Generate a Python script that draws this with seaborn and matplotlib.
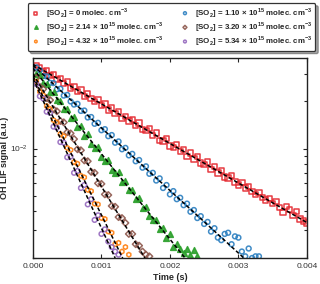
import matplotlib
matplotlib.use('Agg')
import matplotlib.pyplot as plt
import seaborn as sns
from matplotlib.ticker import FormatStrFormatter, NullFormatter

# shared delay grid (microseconds)
delay_us = [50, 100, 150, 200, 250, 300, 350, 400, 450, 500,
            550, 600, 650, 700, 750, 800, 850, 900, 950, 1000,
            1050, 1100, 1150, 1200, 1250, 1300, 1350, 1400, 1450, 1500,
            1550, 1600, 1650, 1700, 1750, 1800, 1850, 1900, 1950, 2000,
            2050, 2100, 2150, 2200, 2250, 2300, 2350, 2400, 2450, 2500,
            2550, 2600, 2650, 2700, 2750, 2800, 2850, 2900, 2950, 3000,
            3050, 3100, 3150, 3200, 3250, 3300, 3350, 3400, 3450, 3500,
            3550, 3600, 3650, 3700, 3750, 3800, 3850, 3900, 3950, 4000]

# OH LIF signal, units of 1e-3 a.u.
sig_0 = [33.9, 33.0, 31.0, 31.5, 29.2, 29.6, 27.5, 27.9, 26.0, 26.6,
         24.4, 24.9, 23.1, 23.6, 21.6, 22.3, 20.8, 20.0, 20.5, 18.8,
         19.3, 17.6, 18.2, 16.8, 17.2, 15.6, 16.1, 15.0, 15.4, 14.0,
         14.6, 13.2, 13.0, 13.4, 12.1, 12.6, 11.3, 11.2, 11.6, 10.4,
         10.2, 10.6, 9.6, 9.9, 8.9, 9.35, 8.6, 8.9, 8.1, 7.9,
         8.2, 7.35, 7.7, 7.0, 7.25, 6.6, 6.5, 6.7, 6.1, 5.85,
         6.05, 5.6, 5.75, 5.3, 5.1, 5.25, 4.85, 4.7, 4.8, 4.45,
         4.6, 4.2, 3.9, 4.25, 4.1, 3.75, 3.95, 3.55, 3.45, 3.35]
sig_110 = [33.0, 31.6, 29.0, 28.9, 26.3, 26.2, 23.9, 24.1, 21.8, 22.0,
           20.0, 19.1, 19.3, 17.4, 17.5, 15.8, 15.9, 14.4, 14.6, 13.1,
           13.3, 12.0, 12.2, 10.9, 11.1, 9.9, 10.1, 9.05, 9.25, 8.3,
           8.45, 7.55, 7.7, 6.9, 7.0, 6.25, 6.45, 5.6, 5.85, 5.1,
           5.35, 4.75, 4.85, 4.35, 4.45, 3.95, 4.05, 3.6, 3.7, 3.3,
           3.4, 2.95, 3.1, 2.7, 2.6, 2.85, 2.9, 2.45, 2.75, 2.7,
           2.2, 2.05, 2.3, 2.0, 2.05, 2.05]
sig_214 = [30.0, 29.3, 26.3, 25.9, 23.0, 22.9, 20.3, 20.2, 17.9, 17.8,
           15.7, 15.9, 13.8, 14.0, 12.1, 12.3, 10.7, 10.1, 10.2, 8.8,
           8.35, 8.5, 7.3, 7.0, 7.05, 6.1, 6.2, 5.4, 5.45, 4.75,
           4.8, 4.2, 4.25, 3.7, 3.5, 3.5, 3.05, 3.1, 2.7, 2.85,
           2.35, 2.45, 2.3, 2.15, 2.3, 2.1, 2.25, 2.05]
sig_320 = [28.3, 24.8, 24.0, 21.0, 20.4, 17.8, 17.3, 15.0, 14.7, 12.7,
           12.5, 11.5, 9.9, 9.75, 8.4, 8.3, 7.1, 7.0, 6.0, 5.95,
           5.1, 5.05, 4.3, 4.25, 3.65, 3.6, 3.35, 2.85, 2.85, 2.45,
           2.4, 2.2, 2.1, 2.05]
sig_432 = [26.8, 23.1, 21.9, 18.7, 17.9, 15.2, 14.7, 12.4, 12.0, 10.1,
           9.8, 8.2, 8.0, 6.7, 6.55, 5.45, 5.35, 4.45, 4.4, 3.6,
           3.55, 2.95, 2.9, 2.45, 2.5, 2.2, 2.35, 2.1]
sig_534 = [25.8, 21.6, 20.9, 17.2, 16.9, 13.8, 13.6, 11.0, 10.9, 8.8,
           8.9, 7.0, 7.2, 5.6, 5.85, 4.4, 4.75, 3.5, 3.75, 2.85,
           3.05, 2.55, 2.35, 2.2, 2.1]

# fitted decays: (end time in s, start and end signal in 1e-3 a.u.)
fit_end = [0.004, 0.00308, 0.00222, 0.001635, 0.00131, 0.0012]
fit_y0 = [34.5, 34.0, 32.5, 30.0, 29.0, 28.0]
fit_y1 = [3.37, 2.0, 2.0, 2.0, 2.0, 2.0]

conc = ['0', '1.10', '2.14', '3.20', '4.32', '5.34']
colors = ['#e4262d', '#2b7fc0', '#2ca02c', '#8c564b', '#ff7f0e', '#9467bd']
markers = ['s', 'o', '^', 'D', 'h', 'o']
filled = [False, False, True, False, False, False]
sizes = [15, 12, 17, 11, 11, 11]
series = [sig_0, sig_110, sig_214, sig_320, sig_432, sig_534]

sns.set_style('ticks')
plt.rcParams['font.family'] = ['Liberation Sans', 'DejaVu Sans']
plt.rcParams['mathtext.fontset'] = 'custom'
plt.rcParams['mathtext.rm'] = 'Liberation Sans'
plt.rcParams['mathtext.bf'] = 'Liberation Sans:bold'

fig = plt.figure(figsize=(3.2, 2.84), dpi=100)
ax = fig.add_axes([0.103, 0.0915, 0.856, 0.705])
ax.set_yscale('log')

for i in range(6):
    t = [d * 1e-6 for d in delay_us[:len(series[i])]]
    y = [v * 1e-3 for v in series[i]]
    if conc[i] == '0':
        lab = r'[SO$_\mathbf{2}$] = 0 molec. cm$^\mathbf{-3}$'
    else:
        lab = r'[SO$_\mathbf{2}$] = ' + conc[i] + r' $\mathbf{\times}$ 10$^\mathbf{15}$ molec. cm$^\mathbf{-3}$'
    fc = colors[i] if filled[i] else 'none'
    sns.scatterplot(x=t, y=y, ax=ax, marker=markers[i], s=sizes[i],
                    color=colors[i], facecolor=fc, edgecolor=colors[i],
                    linewidth=1.1, alpha=0.9, label=lab, zorder=2 + i * 0.1)
    sns.lineplot(x=[0, fit_end[i]], y=[fit_y0[i] * 1e-3, fit_y1[i] * 1e-3], ax=ax,
                 color='k', linestyle=(0, (2.5, 1.5)), linewidth=1.1, zorder=5)

h, l = ax.get_legend_handles_labels()
order = [0, 2, 4, 1, 3, 5]
leg = ax.legend([h[j] for j in order], [l[j] for j in order], ncol=2,
                loc='upper center', bbox_to_anchor=(171.5 / 320, 1 - 3 / 284),
                bbox_transform=fig.transFigure,
                prop={'size': 5.7, 'weight': 'bold'}, frameon=True, fancybox=True,
                shadow=True, handletextpad=0.6, columnspacing=2.0,
                labelspacing=0.02, borderpad=0.35, markerscale=0.6,
                handlelength=1.4, borderaxespad=0)
leg.get_frame().set_edgecolor('#333333')
leg.get_frame().set_linewidth(0.9)

ax.set_xlim(0, 0.004)
ax.set_ylim(0.002, 0.038)
ax.set_xticks([0, 0.001, 0.002, 0.003, 0.004])
ax.xaxis.set_major_formatter(FormatStrFormatter('%.3f'))
ax.yaxis.set_minor_formatter(NullFormatter())
ax.tick_params(which='both', direction='in', top=True, right=True,
               labelsize=6, labelcolor='#333333', width=0.8)
ax.tick_params(which='major', length=3)
ax.tick_params(which='minor', length=2)
for sp in ax.spines.values():
    sp.set_linewidth(1.0)
    sp.set_color('#222222')

ax.set_xlabel('Time (s)', fontsize=6.5, fontweight='bold', labelpad=2)
ax.set_ylabel('OH LIF signal (a.u.)', fontsize=6.5, fontweight='bold', labelpad=1)

fig.savefig('out.png', dpi=100)
